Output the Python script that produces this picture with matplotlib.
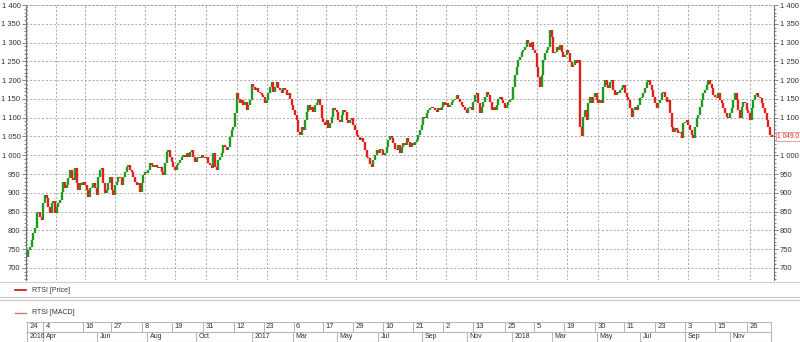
import numpy as np
import matplotlib.pyplot as plt
from matplotlib.lines import Line2D
from matplotlib.ticker import MultipleLocator, FuncFormatter
import matplotlib.transforms as mtransforms

# RTSI closes, left to right (about 1.7 trading days per bar)
close_a = [730, 748, 757, 775, 792, 806, 846, 850, 837, 828,
           872, 894, 885, 863, 846, 872, 877, 846, 863, 872,
           881, 903, 930, 912, 921, 939, 961, 939, 934, 965,
           925, 908, 925, 921, 930, 921, 908, 890, 912, 916,
           925, 912, 894, 943, 961, 965, 925, 899, 908, 925,
           943, 908, 894, 921, 930, 943, 939, 921, 943, 956,
           970, 974, 961, 956, 943, 930, 921, 925, 903, 925,
           947, 956, 952, 961, 979, 974, 970, 974, 970, 965,
           970, 956, 947, 979, 1010, 1014, 996, 983, 970, 961,
           974, 979, 987, 996, 1001, 996, 1005, 996, 1010, 1014,
           996, 983, 992, 996, 992, 1001, 996, 992, 996, 979]
close_b = [974, 965, 1005, 970, 961, 987, 996, 1005, 1027, 1023,
           1014, 1023, 1049, 1067, 1076, 1112, 1165, 1151, 1138, 1147,
           1134, 1143, 1120, 1134, 1147, 1191, 1183, 1174, 1178, 1169,
           1165, 1160, 1156, 1138, 1147, 1165, 1183, 1196, 1169, 1183,
           1196, 1178, 1174, 1165, 1178, 1174, 1160, 1165, 1151, 1134,
           1120, 1107, 1094, 1063, 1054, 1076, 1067, 1094, 1116, 1134,
           1120, 1129, 1116, 1134, 1138, 1151, 1134, 1098, 1089, 1080,
           1094, 1072, 1085, 1103, 1125, 1120, 1116, 1094, 1089, 1107,
           1120, 1116, 1094, 1085, 1094, 1098, 1080, 1067, 1054, 1049,
           1041, 1045, 1036, 1014, 996, 992, 978, 970, 987, 1001,
           1014, 1005, 1018, 1014, 1001, 1005, 1023, 1041]
close_c = [1050, 1045, 1032, 1018, 1014, 1027, 1005, 1023, 1032, 1027,
           1045, 1036, 1023, 1032, 1027, 1036, 1041, 1054, 1067, 1081,
           1103, 1098, 1112, 1121, 1125, 1129, 1125, 1121, 1116, 1125,
           1121, 1129, 1143, 1134, 1138, 1129, 1134, 1143, 1147, 1151,
           1160, 1151, 1143, 1134, 1129, 1121, 1112, 1125, 1129, 1121,
           1143, 1160, 1165, 1138, 1112, 1129, 1143, 1156, 1169, 1160,
           1143, 1121, 1129, 1121, 1134, 1151, 1156, 1147, 1138, 1125,
           1134, 1143, 1147, 1151, 1183, 1214, 1236, 1254, 1262, 1276,
           1280, 1289, 1307, 1298, 1289, 1302, 1280, 1271, 1236, 1209,
           1183, 1214, 1254, 1271, 1280, 1289, 1333, 1316, 1271, 1276,
           1289, 1280, 1294, 1276, 1262, 1267, 1280, 1271, 1249, 1236,
           1240, 1254, 1245, 1254]
close_d = [1076, 1050, 1103, 1120, 1094, 1138, 1156, 1138, 1156, 1165,
           1147, 1138, 1147, 1138, 1183, 1200, 1187, 1178, 1196, 1200,
           1174, 1160, 1169, 1165, 1174, 1178, 1187, 1165, 1156, 1147,
           1125, 1103, 1120, 1129, 1120, 1134, 1152, 1156, 1165, 1178,
           1196, 1200, 1187, 1174, 1156, 1138, 1125, 1138, 1147, 1165,
           1169, 1156, 1143, 1147, 1112, 1076, 1063, 1072, 1067, 1058,
           1063, 1045, 1085, 1089, 1094, 1081, 1067, 1054, 1045, 1076,
           1098, 1107, 1129, 1147, 1165, 1174, 1187, 1200, 1191, 1178,
           1160, 1156, 1152, 1165, 1147, 1138, 1125, 1112, 1103, 1098,
           1112, 1125, 1147, 1165, 1147, 1120, 1098, 1129, 1143, 1138,
           1120, 1112, 1094, 1125, 1147, 1160, 1165, 1156, 1152, 1138,
           1125, 1112, 1094, 1076, 1054, 1049]

last_price = 1049.0

# grid lines of the date axis (bar index)
day_ticks = [0, 17.6, 35.0, 52.7, 71.0, 89.0, 107.6, 125.9, 143.9, 161.9,
             179.8, 197.8, 215.8, 233.8, 251.8, 269.8, 288.7, 306.1, 324.1,
             342.7, 360.4, 378.7, 396.7, 414.7, 433.9]
# cells of the date table (bar index where each cell starts)
day_cells = [0, 9.8, 33.8, 50.8, 69.2, 87.2, 105.8, 124.1, 142.1, 160.1,
             178.0, 196.0, 214.0, 232.0, 250.0, 268.0, 286.9, 304.3, 322.3,
             340.9, 358.6, 376.9, 394.9, 412.9, 432.1]
day_labels = ['24', '4', '16', '27', '8', '19', '31', '12', '23', '6', '17', '29',
              '10', '21', '2', '13', '25', '5', '19', '30', '11', '23', '3', '15', '26']
month_cells = [0, 9.8, 42.2, 72.2, 101.6, 135.2, 159.8, 186.2, 210.7, 237.1,
               264.1, 291.1, 315.1, 342.1, 367.9, 394.9, 421.9]
month_labels = ['2016', 'Apr', 'Jun', 'Aug', 'Oct', '2017', 'Mar', 'May', 'Jul',
                'Sep', 'Nov', '2018', 'Mar', 'May', 'Jul', 'Sep', 'Nov']

close = np.array(close_a + close_b + close_c + close_d, dtype=float)
opens = np.r_[close[0], close[:-1]]
x = np.arange(len(close))
up = close >= opens

GREEN = '#1f9a1f'
RED = '#e3201b'
GRID = '#a8a8a8'
TXT = '#333333'

plt.rcParams['font.family'] = ['Liberation Sans', 'DejaVu Sans']

W, H = 800, 342
fig = plt.figure(figsize=(W / 100, H / 100), dpi=100)

# main price panel
ax = fig.add_axes([26 / W, 1 - 280 / H, 748 / W, 275 / H])
ax.vlines(x[up], opens[up], close[up], colors=GREEN, linewidth=1.7)
ax.vlines(x[~up], opens[~up], close[~up], colors=RED, linewidth=1.7)

ax.set_xlim(-0.4, 448.3)
ax.set_ylim(668, 1400)
ax.set_xticks(day_ticks)
ax.set_xticklabels([])
ax.tick_params(axis='x', length=0)
ax.yaxis.set_major_locator(MultipleLocator(50))
ax.yaxis.set_minor_locator(MultipleLocator(10))
ax.yaxis.set_major_formatter(FuncFormatter(lambda v, p: f'{int(v):,}'.replace(',', ' ')))
ax.tick_params(axis='y', which='both', left=True, right=True, labelleft=True,
               labelright=True, labelsize=5.5, labelcolor=TXT, color='#707070',
               width=0.6, pad=1)
ax.tick_params(axis='y', which='major', length=3)
ax.tick_params(axis='y', which='minor', length=1.5)
ax.grid(True, which='major', color=GRID, linestyle=(0, (2, 2)), linewidth=0.7)
ax.set_axisbelow(True)
for side in ['left', 'right']:
    ax.spines[side].set_color('#707070')
    ax.spines[side].set_linewidth(0.8)
ax.spines['top'].set_color(GRID)
ax.spines['top'].set_linestyle((0, (2, 2)))
ax.spines['top'].set_linewidth(0.7)
ax.spines['bottom'].set_visible(False)

# the price tag hides the right-hand 1 050 label
for loc, tick in zip(ax.get_yticks(), ax.yaxis.get_major_ticks()):
    if abs(loc - 1050) < 1:
        tick.label2.set_visible(False)

trans = mtransforms.blended_transform_factory(ax.transAxes, ax.transData)
ax.text(1.004, last_price, '1 049.0', transform=trans, fontsize=4.8, color=RED,
        va='center', ha='left', clip_on=False,
        bbox=dict(boxstyle='square,pad=0.15', fc='white', ec='#e39090', lw=0.6))

# separators and legend rows
fig.add_artist(Line2D([0, 1], [1 - 282 / H] * 2, color='#cfcfcf', lw=0.8))
fig.add_artist(Line2D([0, 1], [1 - 297 / H] * 2, color='#c8c8c8', lw=0.8))
fig.add_artist(Line2D([0, 1], [1 - 300 / H] * 2, color='#c8c8c8', lw=0.8))

fig.add_artist(Line2D([15 / W, 26 / W], [1 - 290 / H] * 2, color='#c0141a', lw=1.2))
fig.text(32 / W, 1 - 290 / H, 'RTSI [Price]', fontsize=5, color=TXT, va='center')
fig.add_artist(Line2D([15 / W, 26 / W], [1 - 313 / H] * 2, color='#e07070', lw=1.0))
fig.text(32 / W, 1 - 313 / H, 'RTSI [MACD]', fontsize=5, color=TXT, va='center')

# date table
tax = fig.add_axes([26 / W, 0, 748 / W, 20 / H])
tax.set_xlim(ax.get_xlim())
tax.set_ylim(0, 2)
tax.axis('off')
CELL = '#b8b8b8'
tax.hlines([2, 1, 0.02], -0.4, 446.5, colors=CELL, lw=0.8)
tax.vlines(day_cells, 1, 2, colors=CELL, lw=0.8)
tax.vlines(month_cells, 0, 1, colors=CELL, lw=0.8)
tax.vlines([446.5], 0, 2, colors=CELL, lw=0.8)
for t, lab in zip(day_cells, day_labels):
    tax.text(t + 1.5, 1.5, lab, fontsize=5.5, color=TXT, va='center', ha='left')
for t, lab in zip(month_cells, month_labels):
    tax.text(t + 1.5, 0.5, lab, fontsize=5, color=TXT, va='center', ha='left')

fig.savefig('out.png', dpi=100)
